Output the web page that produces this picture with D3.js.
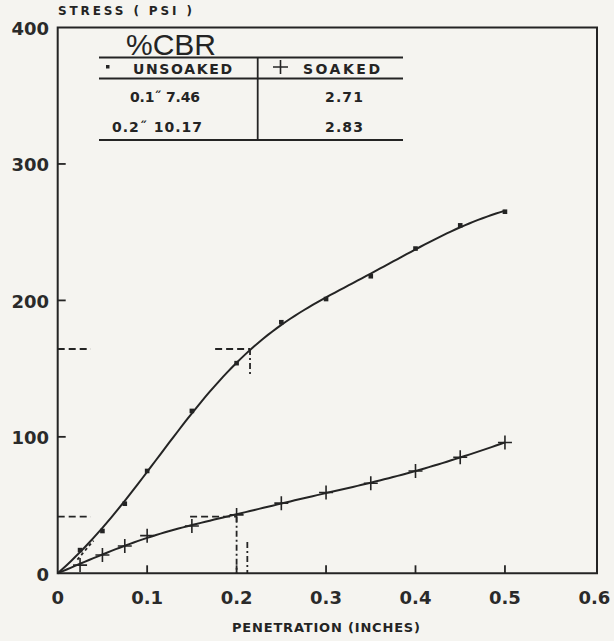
<!DOCTYPE html>
<html><head><meta charset="utf-8">
<script src="https://cdn.jsdelivr.net/npm/d3@7"></script>
<style>
html,body{margin:0;padding:0;background:#f5f4f0;}
svg{display:block;}
</style></head>
<body>
<svg id="chart" width="614" height="641"></svg>
<script>
// ---- data ----
const penetration = [0.025, 0.05, 0.075, 0.1, 0.15, 0.2, 0.25, 0.3, 0.35, 0.4, 0.45, 0.5];
const unsoaked = [17, 31, 51, 75, 119, 154, 184, 201, 217.7, 238, 255, 265];
const soaked   = [6, 13.4, 20, 27.6, 34.7, 42.8, 51.4, 59.2, 66, 75, 85, 95.9];
const xTicks = [0, 0.1, 0.2, 0.3, 0.4, 0.5, 0.6];
const yTicks = [0, 100, 200, 300, 400];
const tableHeader = ["UNSOAKED", "SOAKED"];
const tableRows = [["0.1\u02DD 7.46", "2.71"], ["0.2\u02DD 10.17", "2.83"]];
// guide (dashed) segments in data units: [x1,y1,x2,y2,kind]
const guides = [
  [0, 164.4, 0.037, 164.4, "dash"],
  [0.176, 164.4, 0.215, 164.4, "dash"],
  [0.215, 164.4, 0.215, 145, "dashdot"],
  [0, 41.5, 0.037, 41.5, "dash"],
  [0.148, 41.5, 0.2, 41.5, "dash"],
  [0.2, 41.5, 0.2, 0, "dashdot"],
  [0.212, 23, 0.212, 0, "dashdot"],
  [0.022, 10, 0.04, 24, "dot"]
];

// penalised least-squares smoother (hand-faired test curve through the readings, starting at the origin)
function smoother(xs, ys, lambda) {
  const step = 0.005, N = Math.round(0.5 / step) + 1;
  const M = Array.from({length: N}, () => new Float64Array(N + 1));
  const addPt = (i, v, w) => { M[i][i] += w; M[i][N] += w * v; };
  addPt(0, 0, 1000);
  xs.forEach((xv, k) => addPt(Math.round(xv / step), ys[k], 1));
  const c = [-1, 3, -3, 1];
  for (let r = 0; r + 3 < N; r++) {
    for (let a = 0; a < 4; a++) for (let b = 0; b < 4; b++) M[r + a][r + b] += lambda * c[a] * c[b];
  }
  for (let col = 0; col < N; col++) {
    for (let r = col + 1; r < N; r++) {
      const f = M[r][col] / M[col][col];
      if (f === 0) continue;
      for (let j = col; j <= N; j++) M[r][j] -= f * M[col][j];
    }
  }
  const z = new Float64Array(N);
  for (let r = N - 1; r >= 0; r--) {
    let s = M[r][N];
    for (let j = r + 1; j < N; j++) s -= M[r][j] * z[j];
    z[r] = s / M[r][r];
  }
  return Array.from(z, (v, i) => [i * step, v]);
}

const svg = d3.select("#chart");
const ink = "#242424";
const x = d3.scaleLinear().domain([0, 0.6]).range([57.7, 594.4]);
const y = d3.scaleLinear().domain([0, 400]).range([573.3, 27.5]);

// frame
svg.append("path")
  .attr("d", `M${x(0)},${y(400)} L597,${y(400)} L597,${y(0)} L${x(0)},${y(0)} Z`)
  .attr("fill", "none").attr("stroke", ink).attr("stroke-width", 2);

// ticks (inward)
svg.append("g").selectAll("line").data(xTicks.slice(1, -1)).join("line")
  .attr("x1", d => x(d)).attr("x2", d => x(d))
  .attr("y1", y(0)).attr("y2", y(0) - 8)
  .attr("stroke", ink).attr("stroke-width", 1.8);
svg.append("g").selectAll("line").data(yTicks.slice(1, -1)).join("line")
  .attr("x1", x(0)).attr("x2", x(0) + 8)
  .attr("y1", d => y(d)).attr("y2", d => y(d))
  .attr("stroke", ink).attr("stroke-width", 1.8);

// tick labels
const tickFont = "'DejaVu Sans', sans-serif";
svg.append("g").selectAll("text").data(xTicks).join("text")
  .attr("x", d => x(d)).attr("y", y(0) + 31)
  .attr("text-anchor", "middle")
  .attr("font-family", tickFont).attr("font-weight", "bold").attr("font-size", 18).attr("fill", "#2a2a2a")
  .text(d => d === 0 ? "0" : d3.format(".1f")(d));
svg.append("g").selectAll("text").data(yTicks).join("text")
  .attr("x", 49).attr("y", d => y(d) + 7.5)
  .attr("text-anchor", "end")
  .attr("font-family", tickFont).attr("font-weight", "bold").attr("font-size", 18).attr("fill", "#2a2a2a")
  .text(d => d);

// axis titles
svg.append("text").attr("x", 58).attr("y", 15)
  .attr("font-family", tickFont).attr("font-weight", "bold").attr("font-size", 12)
  .attr("fill", ink).attr("textLength", 134).attr("lengthAdjust", "spacing")
  .text("STRESS ( PSI )");
svg.append("text").attr("x", 232).attr("y", 632)
  .attr("font-family", tickFont).attr("font-weight", "bold").attr("font-size", 13)
  .attr("fill", ink).attr("textLength", 188).attr("lengthAdjust", "spacing")
  .text("PENETRATION (INCHES)");

// guides
const dashes = {dash: "7,4", dashdot: "6,3,2,3", dot: "3,3"};
svg.append("g").selectAll("line").data(guides).join("line")
  .attr("x1", d => x(d[0])).attr("y1", d => y(d[1]))
  .attr("x2", d => x(d[2])).attr("y2", d => y(d[3]))
  .attr("stroke", ink).attr("stroke-width", 1.8)
  .attr("stroke-dasharray", d => dashes[d[4]]);

// faired curves
const line = d3.line().x(d => x(d[0])).y(d => y(d[1]));
svg.append("path").attr("d", line(smoother(penetration, unsoaked, 2e4))).attr("fill", "none")
  .attr("stroke", ink).attr("stroke-width", 2);
svg.append("path").attr("d", line(smoother(penetration, soaked, 1e4))).attr("fill", "none")
  .attr("stroke", ink).attr("stroke-width", 2);

// unsoaked markers (dots)
svg.append("g").selectAll("rect").data(penetration).join("rect")
  .attr("x", (d) => x(d) - 2.3).attr("y", (d, i) => y(unsoaked[i]) - 2.3)
  .attr("width", 4.6).attr("height", 4.6).attr("fill", ink);

// soaked markers (crosses)
svg.append("g").selectAll("path").data(penetration).join("path")
  .attr("d", (d, i) => {
    const cx = x(d), cy = y(soaked[i]);
    return `M${cx - 7},${cy} L${cx + 7},${cy} M${cx},${cy - 7} L${cx},${cy + 7}`;
  })
  .attr("fill", "none").attr("stroke", ink).attr("stroke-width", 1.6);

// %CBR table
const tb = svg.append("g");
tb.append("text").attr("x", 126).attr("y", 55)
  .attr("font-family", "'Liberation Sans', Arial, sans-serif").attr("font-size", 30)
  .attr("fill", ink).text("%CBR");
[57.5, 78.5, 140].forEach(yy => {
  tb.append("line").attr("x1", 99).attr("x2", 403).attr("y1", yy).attr("y2", yy)
    .attr("stroke", ink).attr("stroke-width", 2);
});
tb.append("line").attr("x1", 257.7).attr("x2", 257.7).attr("y1", 57.5).attr("y2", 140)
  .attr("stroke", ink).attr("stroke-width", 1.8);
// header markers
tb.append("rect").attr("x", 106).attr("y", 65).attr("width", 3.5).attr("height", 3.5).attr("fill", ink);
tb.append("path").attr("d", "M273,67 L288,67 M280.5,60 L280.5,74")
  .attr("stroke", ink).attr("stroke-width", 1.6);
const hdrFont = "'DejaVu Sans', sans-serif";
tb.append("text").attr("x", 133).attr("y", 74)
  .attr("font-family", hdrFont).attr("font-weight", "bold").attr("font-size", 14).attr("fill", ink)
  .attr("textLength", 99).attr("lengthAdjust", "spacing").text(tableHeader[0]);
tb.append("text").attr("x", 303).attr("y", 74)
  .attr("font-family", hdrFont).attr("font-weight", "bold").attr("font-size", 14).attr("fill", ink)
  .attr("textLength", 77).attr("lengthAdjust", "spacing").text(tableHeader[1]);
const rowY = [102, 132];
const rowX = [130, 112];
const rowW = [70, 90];
tableRows.forEach((r, i) => {
  tb.append("text").attr("x", rowX[i]).attr("y", rowY[i])
    .attr("font-family", hdrFont).attr("font-weight", "bold").attr("font-size", 14).attr("fill", ink)
    .attr("textLength", rowW[i]).attr("lengthAdjust", "spacing").text(r[0]);
  tb.append("text").attr("x", 325).attr("y", rowY[i])
    .attr("font-family", hdrFont).attr("font-weight", "bold").attr("font-size", 14).attr("fill", ink)
    .attr("textLength", 38).attr("lengthAdjust", "spacing").text(r[1]);
});
</script>
</body></html>
